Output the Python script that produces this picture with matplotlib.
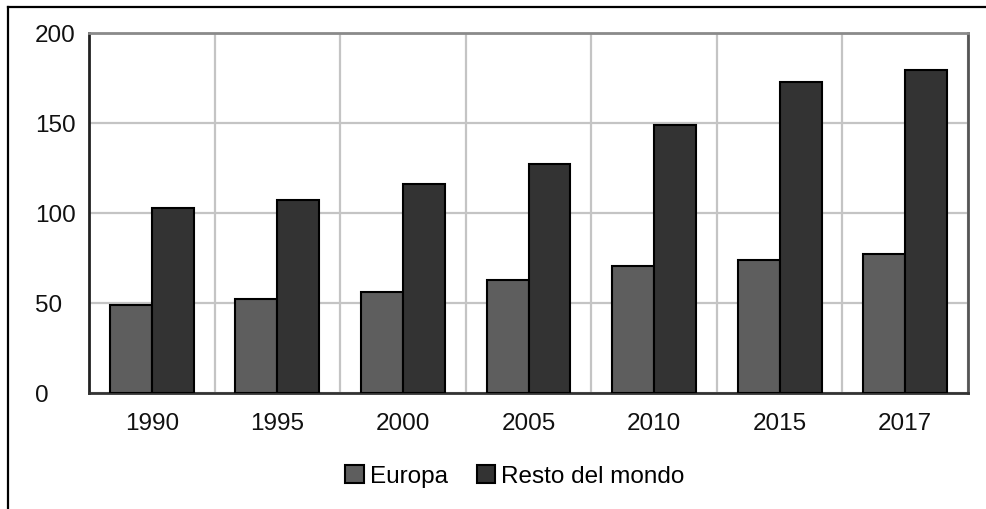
import numpy as np
import matplotlib
matplotlib.use('Agg')
import matplotlib.pyplot as plt
from matplotlib.lines import Line2D

plt.rcParams['font.family']=['Liberation Sans','DejaVu Sans']

years=['1990','1995','2000','2005','2010','2015','2017']
europa=[49,52.5,56,63,70.5,74,77.5]
resto=[103,107.5,116,127,149,173,179.5]

c_eu='#5e5e5e'
c_rm='#333333'
fs=17.5

fig=plt.figure(figsize=(9.86,5.10),dpi=100)
ax=fig.add_axes([89/986,1-394/510,(968-89)/986,(394-34)/510])

x=np.arange(len(years))
w=0.334
ax.bar(x-w/2,europa,w,color=c_eu,edgecolor='black',lw=1.5,label='Europa',zorder=3)
ax.bar(x+w/2,resto,w,color=c_rm,edgecolor='black',lw=1.5,label='Resto del mondo',zorder=3)

ax.set_xlim(-0.5,len(years)-0.5)
ax.set_ylim(0,200)
ax.set_yticks([0,50,100,150,200])
ax.set_xticks(x)
ax.set_xticklabels(years)
ax.set_xticks(np.arange(len(years)+1)-0.5,minor=True)

ax.grid(axis='y',which='major',color='#c4c4c4',lw=1.6,zorder=0)
ax.grid(axis='x',which='minor',color='#c4c4c4',lw=1.6,zorder=0)
ax.set_axisbelow(True)

ax.tick_params(axis='both',which='both',length=0,labelsize=fs,colors='#111111')
ax.tick_params(axis='x',pad=14)
ax.tick_params(axis='y',pad=39)
for t in ax.get_yticklabels():
    t.set_horizontalalignment('left')

ax.spines['left'].set_color('#222222')
ax.spines['left'].set_linewidth(2)
ax.spines['bottom'].set_color('#333333')
ax.spines['bottom'].set_linewidth(2)
ax.spines['top'].set_color('#8a8a8a')
ax.spines['top'].set_linewidth(2)
ax.spines['right'].set_color('#555555')
ax.spines['right'].set_linewidth(2)

fig.legend(loc='center',bbox_to_anchor=(515/986,1-477/510),ncol=2,frameon=False,
           fontsize=fs,handlelength=0.75,handleheight=0.75,handletextpad=0.25,
           columnspacing=1.2)

# outer frame (left and top only visible)
fig.add_artist(Line2D([8/986,8/986],[0,1-8/510],color='black',lw=1.6,transform=fig.transFigure))
fig.add_artist(Line2D([8/986,1],[1-8/510,1-8/510],color='black',lw=1.6,transform=fig.transFigure))

fig.savefig('out.png',dpi=100)
